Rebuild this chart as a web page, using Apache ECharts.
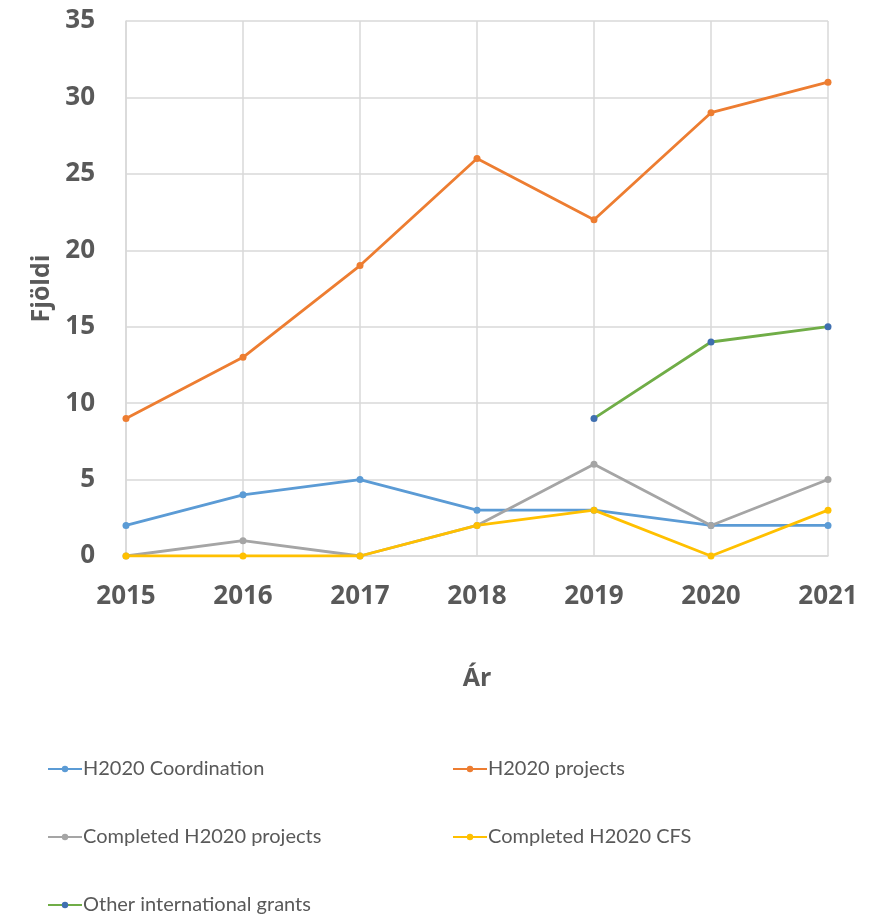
<!DOCTYPE html>
<html>
<head>
<meta charset="utf-8">
<script src="https://cdn.jsdelivr.net/npm/echarts@6/dist/echarts.min.js"></script>
<style>
  html, body { margin: 0; padding: 0; background: #fff; }
  #chart { width: 885px; height: 917px; }
</style>
</head>
<body>
<div id="chart"></div>
<script>
const years = ["2015", "2016", "2017", "2018", "2019", "2020", "2021"];
const coordination = [2, 4, 5, 3, 3, 2, 2];
const projects = [9, 13, 19, 26, 22, 29, 31];
const completedProjects = [0, 1, 0, 2, 6, 2, 5];
const completedCfs = [0, 0, 0, 2, 3, 0, 3];
const otherGrants = [null, null, null, null, 9, 14, 15];

const names = [
  "H2020 Coordination",
  "H2020 projects",
  "Completed H2020 projects",
  "Completed H2020 CFS",
  "Other international grants"
];
const colors = ["#5B9BD5", "#ED7D31", "#A5A5A5", "#FFC000", "#70AD47"];
const markerColors = ["#5B9BD5", "#ED7D31", "#A5A5A5", "#FFC000", "#3F6FB0"];
const values = [coordination, projects, completedProjects, completedCfs, otherGrants];

const boldFam = "'Open Sans', sans-serif";
const legendFam = "Lato, sans-serif";
const textColor = "#595959";
const gridColor = "#d9d9d9";

// legend positions (two columns, three rows)
const legendPos = [
  { left: 47, top: 759 },
  { left: 452, top: 759 },
  { left: 47, top: 827 },
  { left: 452, top: 827 },
  { left: 47, top: 895 }
];

const chart = echarts.init(document.getElementById("chart"));

const option = {
  animation: false,
  backgroundColor: "#fff",
  grid: { left: 126, right: 57, top: 21, bottom: 361 },
  legend: names.map((n, i) => ({
    data: [n],
    left: legendPos[i].left,
    top: legendPos[i].top,
    itemWidth: 34,
    itemHeight: 8,
    itemGap: 0,
    padding: 0,
    textStyle: { fontFamily: legendFam, fontSize: 20, color: textColor, padding: [0, 0, 0, -4] }
  })),
  xAxis: {
    type: "category",
    data: years,
    boundaryGap: false,
    name: "Ár",
    nameLocation: "middle",
    nameGap: 110,
    nameTextStyle: { fontFamily: boldFam, fontSize: 25, fontWeight: "bold", color: textColor },
    axisLine: { lineStyle: { color: gridColor, width: 1.5 } },
    axisTick: { show: false },
    axisLabel: { fontFamily: boldFam, fontSize: 26, fontWeight: "bold", color: textColor, margin: 28 },
    splitLine: { show: true, lineStyle: { color: gridColor, width: 1.5 } }
  },
  yAxis: {
    type: "value",
    min: 0,
    max: 35,
    interval: 5,
    name: "Fjöldi",
    nameLocation: "middle",
    nameGap: 72,
    nameTextStyle: { fontFamily: boldFam, fontSize: 25, fontWeight: "bold", color: textColor },
    axisLine: { show: true, lineStyle: { color: gridColor, width: 1.5 } },
    axisTick: { show: false },
    axisLabel: { fontFamily: boldFam, fontSize: 26, fontWeight: "bold", color: textColor, margin: 31 },
    splitLine: { lineStyle: { color: gridColor, width: 1.5 } }
  },
  series: names.map((n, i) => ({
    name: n,
    type: "line",
    data: values[i],
    symbol: "circle",
    symbolSize: 7,
    lineStyle: { color: colors[i], width: 2.8 },
    itemStyle: { color: markerColors[i] },
    connectNulls: false
  }))
};

chart.setOption(option);
</script>
</body>
</html>
